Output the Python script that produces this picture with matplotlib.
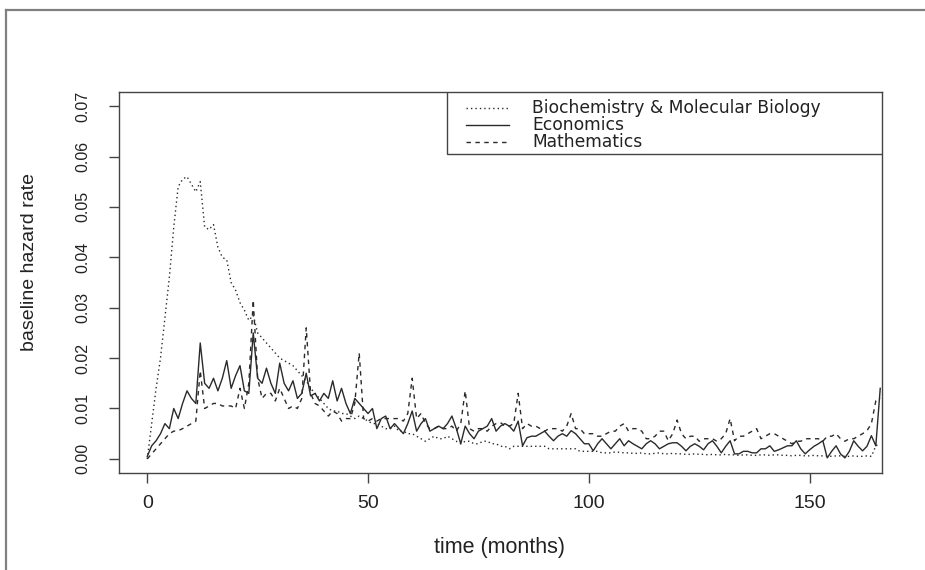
import numpy as np
import matplotlib
matplotlib.use("Agg")
import matplotlib.pyplot as plt
from matplotlib.lines import Line2D
from matplotlib.patches import Rectangle

plt.rcParams['font.family'] = ['Liberation Sans', 'DejaVu Sans']

# monthly baseline hazard estimates, rates x 1000
months = np.arange(0, 167)

biochem_x1000 = [
    0, 7, 14, 20, 28, 36, 46, 54, 55.5, 56,
    54.5, 53, 55, 46, 45.5, 46.5, 42, 40, 39.5, 35,
    33.5, 31, 29.5, 27.5, 28.5, 25, 24, 23, 22, 21,
    20, 19.5, 19, 18.5, 17.5, 16.5, 15.5, 14, 13, 12,
    11, 10, 9.5, 9.5, 9, 9, 8.5, 8, 8.5, 8,
    7.5, 7, 7, 6.5, 6, 6, 6.5, 5.5, 5.5, 5,
    5, 4.5, 4, 3.5, 4, 4.5, 4, 4, 4.5, 4,
    3.5, 3, 3.5, 3.5, 3, 3, 3.5, 3.5, 3, 3,
    2.5, 2.5, 2, 2.5, 2.5, 2.5, 2.5, 2.5, 2.5, 2.5,
    2.5, 2, 2, 2, 2, 2, 2, 2, 1.5, 1.5,
    1.5, 1.5, 1.5, 1.2, 1.2, 1.2, 1.4, 1.3, 1.2, 1.2,
    1.1, 1.1, 1.2, 1.0, 1.0, 1.1, 1.2, 1.0, 1.0, 1.1,
    1.0, 1.0, 0.9, 0.9, 1.0, 0.9, 0.9, 0.8, 0.9, 0.8,
    0.8, 0.9, 0.8, 0.8, 0.7, 0.8, 0.8, 0.7, 0.7, 0.8,
    0.8, 0.7, 0.8, 0.8, 0.7, 0.7, 0.6, 0.7, 0.7, 0.6,
    0.6, 0.7, 0.6, 0.6, 0.6, 0.5, 0.6, 0.6, 0.5, 0.5,
    0.6, 0.5, 0.5, 0.6, 0.5, 2.6, 3.0,
]

economics_x1000 = [
    0.5, 2.6, 3.6, 5, 7, 6, 10, 8, 11, 13.5,
    12, 11, 23, 15, 14, 16, 13.5, 16, 19.5, 14,
    16.5, 18.5, 13.5, 13, 25, 16, 15, 18, 15, 13,
    19, 15, 13.5, 15.5, 12, 13, 17, 12.5, 13, 11.5,
    13, 12, 15.5, 11.5, 14, 11, 9, 12, 11, 10,
    9, 10, 6, 8, 8.5, 6, 7, 6, 5, 7,
    9.5, 5.5, 7, 8, 5.5, 6, 6.5, 6, 7, 8.5,
    6, 3, 6.5, 5, 4, 5.5, 6, 6.5, 8, 5.5,
    6.5, 7, 6.5, 5.5, 7.5, 2.6, 4.2, 4.5, 4.5, 5,
    5.5, 4.5, 3.6, 4.5, 5, 4.5, 5.6, 5, 4, 3,
    3, 1.6, 3, 4, 3, 2, 3, 4, 2.6, 3.6,
    3, 2.5, 2, 3, 3.6, 3, 2, 2.5, 3, 3.2,
    3.2, 2.5, 1.6, 2.5, 3, 2.5, 1.8, 3, 3.6, 2.5,
    1.2, 2.5, 3.6, 1, 1, 1.5, 1.5, 1.2, 1.2, 2,
    2, 2.6, 1.5, 1.8, 2.2, 2.6, 2.6, 3.6, 2, 1,
    1.8, 2.5, 3, 3.6, 0.2, 1.5, 2.6, 1, 0.2, 1.5,
    3.6, 2.5, 1.6, 2.5, 4.6, 2.6, 14,
]

mathematics_x1000 = [
    0, 1, 2, 3, 4, 5, 5.5, 5.6, 6, 6.5,
    7, 7.5, 17.5, 10, 10.5, 11, 11, 10.5, 10.5, 10.5,
    10, 14, 10, 15, 31.5, 16, 12, 13, 13, 11.5,
    14, 12, 10, 10.5, 10, 12, 26, 13, 11, 10.5,
    9.5, 8.5, 9.5, 9, 7.5, 8, 8, 11, 21, 8,
    7.5, 8, 7.5, 8, 8, 8, 8, 8, 7.5, 9,
    16, 8, 9, 7, 6, 6, 6.5, 6, 6, 6.5,
    5.5, 7, 13.5, 6, 5.5, 6, 6, 5.5, 6.5, 7,
    7.2, 6.5, 6.5, 7, 13, 6, 7, 6.5, 6.5, 6,
    5.5, 6, 6, 6, 5.5, 6.5, 9, 6, 6, 5,
    5, 5, 4.5, 4.5, 5, 5.5, 5.5, 6.5, 7, 5.5,
    6, 6, 5.5, 4, 4, 4.5, 5.5, 5.5, 3.6, 5,
    7.7, 5, 4, 4.5, 4.5, 3.5, 4, 4, 4, 3.5,
    4, 5, 8, 3.6, 4.5, 4.5, 5, 5.5, 6, 4,
    4.5, 5, 5, 4.5, 4, 3.5, 3, 3.5, 3.5, 4,
    4, 4, 4, 3.5, 4.5, 4.5, 5, 4, 3.5, 4,
    4, 4.5, 5, 5.6, 7, 11.5, 12,
]

series_names = ['Biochemistry & Molecular Biology', 'Economics', 'Mathematics']
x_ticks = [0, 50, 100, 150]
y_ticks = [0.00, 0.01, 0.02, 0.03, 0.04, 0.05, 0.06, 0.07]
y_tick_labels = ['0.00', '0.01', '0.02', '0.03', '0.04', '0.05', '0.06', '0.07']

biochem = np.array(biochem_x1000) / 1000.0
economics = np.array(economics_x1000) / 1000.0
mathematics = np.array(mathematics_x1000) / 1000.0

ink = '#2a2a2a'
dotted = (0, (1, 2.2))
dashed = (0, (3.2, 3.2))

fig = plt.figure(figsize=(9.25, 5.7), dpi=100)
fig.patch.set_facecolor('white')
ax = fig.add_axes([119 / 925, 97 / 570, 763 / 925, 381 / 570])

ax.plot(months, biochem, color=ink, lw=1.0, linestyle=dotted)
ax.plot(months, economics, color=ink, lw=1.0, linestyle='-')
ax.plot(months, mathematics, color=ink, lw=1.0, linestyle=dashed)

# R-style ranges: 4% padding around xlim=c(0,160), ylim=c(0,0.07)
ax.set_xlim(-6.4, 166.4)
ax.set_ylim(-0.0028, 0.0728)

ax.set_xticks(x_ticks)
ax.set_xticklabels([str(v) for v in x_ticks])
ax.set_yticks(y_ticks)
ax.set_yticklabels(y_tick_labels, rotation=90, va='center')
ax.tick_params(axis='x', direction='out', length=7.5, width=1.0, color='#444444',
               labelsize=14, pad=8, labelcolor='#222222')
ax.tick_params(axis='y', direction='out', length=7.5, width=1.0, color='#444444',
               labelsize=11.5, pad=13, labelcolor='#222222')
for s in ax.spines.values():
    s.set_color('#444444')
    s.set_linewidth(1.0)

ax.set_xlabel('time (months)', fontsize=15.5, color='#222222')
ax.xaxis.label.set_va('center')
ax.xaxis.set_label_coords((500 - 119) / 763, (473 - 548) / 381)
ax.set_ylabel('baseline hazard rate', fontsize=14, color='#222222')
ax.yaxis.label.set_va('center')
ax.yaxis.set_label_coords((30 - 119) / 763, (473 - 262) / 381)

# legend box in the upper right corner, drawn in axes fractions
lx0 = (447 - 119) / 763
ly0 = (473 - 154) / 381
ax.add_patch(Rectangle((lx0, ly0), 1 - lx0, 1 - ly0, transform=ax.transAxes,
                       facecolor='white', edgecolor='#444444', lw=1.0, zorder=5))
row_y = [(473 - py) / 381 for py in (107.5, 124.5, 141.5)]
styles = [dotted, '-', dashed]
hx0, hx1 = (466 - 119) / 763, (509 - 119) / 763
tx = (532 - 119) / 763
for name, ls, yy in zip(series_names, styles, row_y):
    ax.add_line(Line2D([hx0, hx1], [yy, yy], transform=ax.transAxes, color=ink,
                       lw=1.0, linestyle=ls, zorder=6))
    ax.text(tx, yy, name, transform=ax.transAxes, fontsize=12.3, color='#222222',
            family='DejaVu Sans', ha='left', va='center', zorder=6)

# gray frame along the top and left edges of the image
fig.add_artist(Line2D([6 / 925, 1.0], [1 - 10 / 570, 1 - 10 / 570],
                      transform=fig.transFigure, color='#808080', lw=1.6))
fig.add_artist(Line2D([6 / 925, 6 / 925], [0.0, 1 - 10 / 570],
                      transform=fig.transFigure, color='#808080', lw=1.6))

fig.savefig('out.png', dpi=100)
